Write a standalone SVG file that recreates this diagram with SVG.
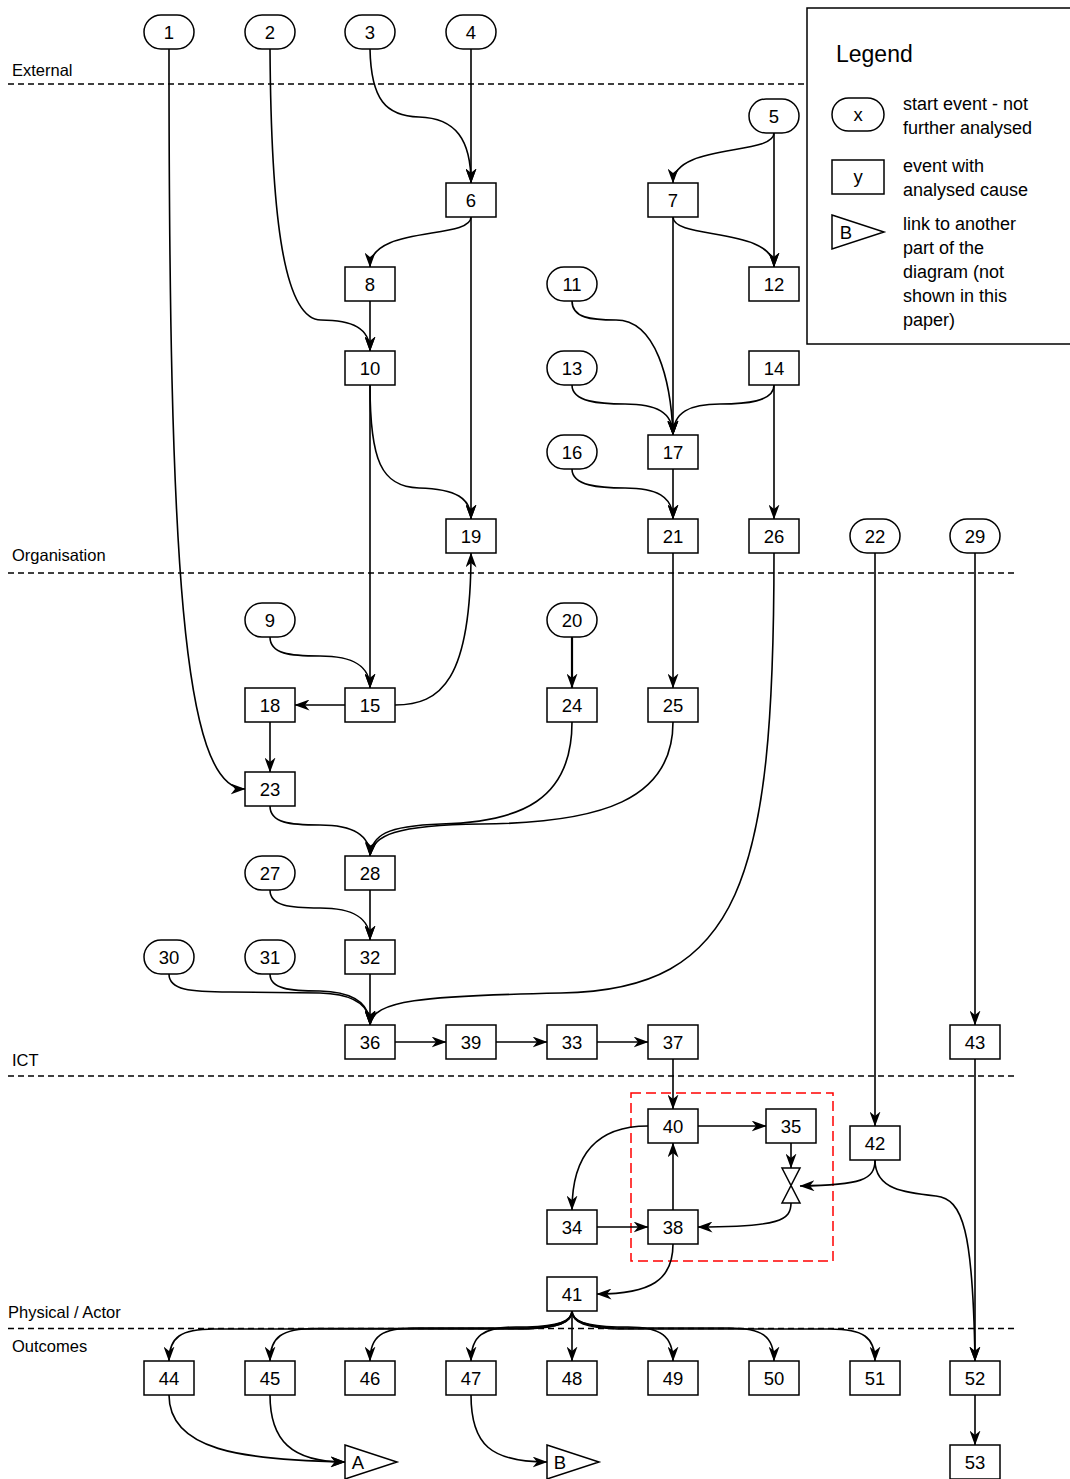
<svg xmlns="http://www.w3.org/2000/svg" width="1070" height="1479" viewBox="0 0 1070 1479">
<style>
text{font-family:"Liberation Sans",Arial,Helvetica,sans-serif;fill:#000}
.n rect,.n polygon{fill:#fff;stroke:#000;stroke-width:1.5}
.n text{font-size:18.5px;text-anchor:middle}
.lane{stroke:#000;stroke-width:1.3;stroke-dasharray:6 4;fill:none}
.lbl{font-size:16.5px}
#edges path{fill:none;stroke:#000;stroke-width:1.6;marker-end:url(#ah)}
.lg{font-size:18px}
</style>
<defs>
<marker id="ah" viewBox="0 0 15 11" refX="14.5" refY="5.5" markerWidth="15" markerHeight="11" markerUnits="userSpaceOnUse" orient="auto">
<path d="M0,0 L15,5.5 L0,11 L4.5,5.5 Z" fill="#000"/>
</marker>
</defs>
<rect width="1070" height="1479" fill="#fff"/>

<g id="lanes">
<line class="lane" x1="8" y1="84" x2="807" y2="84"/>
<line class="lane" x1="8" y1="573" x2="1015" y2="573"/>
<line class="lane" x1="8" y1="1076" x2="1015" y2="1076"/>
<line class="lane" x1="8" y1="1328.5" x2="1015" y2="1328.5"/>
<text class="lbl" x="12" y="76">External</text>
<text class="lbl" x="12" y="561">Organisation</text>
<text class="lbl" x="12" y="1066">ICT</text>
<text class="lbl" x="8" y="1318">Physical / Actor</text>
<text class="lbl" x="12" y="1352">Outcomes</text>
</g>

<rect id="group" x="631" y="1093" width="202" height="168" fill="none" stroke="#ff0000" stroke-width="1.5" stroke-dasharray="10 5"/>

<g id="legend">
<rect x="807" y="8" width="290" height="336" fill="#fff" stroke="#000" stroke-width="1.5"/>
<text x="836" y="62" style="font-size:23px">Legend</text>
<g class="n"><rect x="832" y="98" width="52" height="33" rx="16.5" ry="16.5"/><text x="858" y="121">x</text></g>
<g class="n"><rect x="832" y="160" width="52" height="34"/><text x="858" y="183">y</text></g>
<g class="n"><polygon points="832,215 884,232 832,249"/><text x="846" y="238.5">B</text></g>
<text class="lg" x="903" y="109.5">start event - not</text>
<text class="lg" x="903" y="133.5">further analysed</text>
<text class="lg" x="903" y="171.5">event with</text>
<text class="lg" x="903" y="195.5">analysed cause</text>
<text class="lg" x="903" y="229.5">link to another</text>
<text class="lg" x="903" y="253.5">part of the</text>
<text class="lg" x="903" y="277.5">diagram (not</text>
<text class="lg" x="903" y="301.5">shown in this</text>
<text class="lg" x="903" y="325.5">paper)</text>
</g>

<g id="edges">
<path d="M169,49 C169,560 182,789 245,789"/>
<path d="M270,49 C271,200 281,320 321,320 C352,320 370,328 370,351"/>
<path d="M370,49 C371,100 386,116 419,117 C456,118 471,140 471,183"/>
<path d="M471,49 L471,183"/>
<path d="M471,217 C471,240 370,225 370,267"/>
<path d="M471,217 L471,519"/>
<path d="M370,301 L370,351"/>
<path d="M370,385 C370,460 381,487 419,488 C456,489 471,498 471,519"/>
<path d="M370,385 L370,688"/>
<path d="M774,133 C774,156 673,143 673,183"/>
<path d="M774,133 L774,267"/>
<path d="M673,217 C673,240 774,227 774,267"/>
<path d="M673,217 L673,435"/>
<path d="M572,301 C572,318 591,320 616,320 C656,320 671,380 673,435"/>
<path d="M572,385 C572,402 600,404 625,404 C656,404 673,412 673,435"/>
<path d="M774,385 C774,402 745,404 720,404 C690,404 673,412 673,435"/>
<path d="M774,385 L774,519"/>
<path d="M572,469 C572,486 600,488 625,488 C656,488 673,496 673,519"/>
<path d="M673,469 L673,519"/>
<path d="M673,553 L673,688"/>
<path d="M774,553 C774,880 741,990 561,993 C421,996 373,1000 370,1025"/>
<path d="M875,553 L875,1126"/>
<path d="M975,553 L975,1025"/>
<path d="M270,637 C270,654 290,656 320,656 C352,656 370,665 370,688"/>
<path d="M345,705 L295,705"/>
<path d="M395,705 C441,705 471,680 471,553"/>
<path d="M270,722 L270,772"/>
<path d="M572,637 L572,688" style="stroke-width:2.2"/>
<path d="M270,806 C270,823 290,825 320,825 C352,825 370,834 370,856"/>
<path d="M572,722 C572,800 521,822 441,824 C386,826 372,835 370,856"/>
<path d="M673,722 C673,800 601,823 481,824 C396,825 372,835 370,856"/>
<path d="M370,890 L370,940"/>
<path d="M270,890 C270,906 290,908 320,908 C352,908 370,917 370,940"/>
<path d="M169,974 C169,990 190,992 230,992 L320,993 C355,994 370,1005 370,1025"/>
<path d="M270,974 C270,989 290,991 320,991 C355,992 370,1004 370,1025"/>
<path d="M370,974 L370,1025"/>
<path d="M395,1042 L446,1042"/>
<path d="M496,1042 L547,1042"/>
<path d="M597,1042 L648,1042"/>
<path d="M673,1059 L673,1109"/>
<path d="M975,1059 L975,1361"/>
<path d="M875,1160 C875,1190 906,1193 936,1196 C963,1199 973,1230 975,1361"/>
<path d="M875,1160 C875,1180 861,1185 800,1186"/>
<path d="M791,1143 L791,1168"/>
<path d="M791,1203 C791,1220 780,1227 698,1227"/>
<path d="M698,1126 L766,1126"/>
<path d="M648,1126 C601,1126 572,1150 572,1210"/>
<path d="M597,1227 L648,1227"/>
<path d="M673,1210 L673,1143"/>
<path d="M673,1244 C673,1280 651,1294 597,1294"/>
<path d="M572,1311 C572,1323 557,1328 527,1329 L214,1329 C181,1329 169,1337 169,1361"/>
<path d="M572,1311 C572,1323 557,1327.5 527,1328.5 L315,1328.5 C282,1328.5 270,1337 270,1361"/>
<path d="M572,1311 C572,1322 557,1327 527,1328 L415,1328 C382,1328 370,1336 370,1361"/>
<path d="M572,1311 C572,1322 557,1326 527,1327 L516,1327 C483,1327 471,1336 471,1361"/>
<path d="M572,1311 L572,1361"/>
<path d="M572,1311 C572,1322 587,1326 617,1327 L628,1327 C661,1327 673,1336 673,1361"/>
<path d="M572,1311 C572,1322 587,1327 617,1328 L729,1328 C762,1328 774,1336 774,1361"/>
<path d="M572,1311 C572,1323 587,1328 617,1329 L830,1329 C863,1329 875,1337 875,1361"/>
<path d="M975,1395 L975,1445"/>
<path d="M169,1395 C169,1450 241,1460 345,1462"/>
<path d="M270,1395 C270,1440 291,1462 345,1462"/>
<path d="M471,1395 C471,1445 491,1462 547,1462"/>
</g>

<g id="n1" class="n"><rect x="144" y="15" width="50" height="34" rx="17"/><text x="169" y="38.5">1</text></g>
<g id="n2" class="n"><rect x="245" y="15" width="50" height="34" rx="17"/><text x="270" y="38.5">2</text></g>
<g id="n3" class="n"><rect x="345" y="15" width="50" height="34" rx="17"/><text x="370" y="38.5">3</text></g>
<g id="n4" class="n"><rect x="446" y="15" width="50" height="34" rx="17"/><text x="471" y="38.5">4</text></g>
<g id="n5" class="n"><rect x="749" y="99" width="50" height="34" rx="17"/><text x="774" y="122.5">5</text></g>
<g id="n11" class="n"><rect x="547" y="267" width="50" height="34" rx="17"/><text x="572" y="290.5">11</text></g>
<g id="n13" class="n"><rect x="547" y="351" width="50" height="34" rx="17"/><text x="572" y="374.5">13</text></g>
<g id="n16" class="n"><rect x="547" y="435" width="50" height="34" rx="17"/><text x="572" y="458.5">16</text></g>
<g id="n22" class="n"><rect x="850" y="519" width="50" height="34" rx="17"/><text x="875" y="542.5">22</text></g>
<g id="n29" class="n"><rect x="950" y="519" width="50" height="34" rx="17"/><text x="975" y="542.5">29</text></g>
<g id="n9" class="n"><rect x="245" y="603" width="50" height="34" rx="17"/><text x="270" y="626.5">9</text></g>
<g id="n20" class="n"><rect x="547" y="603" width="50" height="34" rx="17"/><text x="572" y="626.5">20</text></g>
<g id="n27" class="n"><rect x="245" y="856" width="50" height="34" rx="17"/><text x="270" y="879.5">27</text></g>
<g id="n30" class="n"><rect x="144" y="940" width="50" height="34" rx="17"/><text x="169" y="963.5">30</text></g>
<g id="n31" class="n"><rect x="245" y="940" width="50" height="34" rx="17"/><text x="270" y="963.5">31</text></g>

<g id="n6" class="n"><rect x="446" y="183" width="50" height="34"/><text x="471" y="206.5">6</text></g>
<g id="n7" class="n"><rect x="648" y="183" width="50" height="34"/><text x="673" y="206.5">7</text></g>
<g id="n8" class="n"><rect x="345" y="267" width="50" height="34"/><text x="370" y="290.5">8</text></g>
<g id="n12" class="n"><rect x="749" y="267" width="50" height="34"/><text x="774" y="290.5">12</text></g>
<g id="n10" class="n"><rect x="345" y="351" width="50" height="34"/><text x="370" y="374.5">10</text></g>
<g id="n14" class="n"><rect x="749" y="351" width="50" height="34"/><text x="774" y="374.5">14</text></g>
<g id="n17" class="n"><rect x="648" y="435" width="50" height="34"/><text x="673" y="458.5">17</text></g>
<g id="n19" class="n"><rect x="446" y="519" width="50" height="34"/><text x="471" y="542.5">19</text></g>
<g id="n21" class="n"><rect x="648" y="519" width="50" height="34"/><text x="673" y="542.5">21</text></g>
<g id="n26" class="n"><rect x="749" y="519" width="50" height="34"/><text x="774" y="542.5">26</text></g>
<g id="n18" class="n"><rect x="245" y="688" width="50" height="34"/><text x="270" y="711.5">18</text></g>
<g id="n15" class="n"><rect x="345" y="688" width="50" height="34"/><text x="370" y="711.5">15</text></g>
<g id="n24" class="n"><rect x="547" y="688" width="50" height="34"/><text x="572" y="711.5">24</text></g>
<g id="n25" class="n"><rect x="648" y="688" width="50" height="34"/><text x="673" y="711.5">25</text></g>
<g id="n23" class="n"><rect x="245" y="772" width="50" height="34"/><text x="270" y="795.5">23</text></g>
<g id="n28" class="n"><rect x="345" y="856" width="50" height="34"/><text x="370" y="879.5">28</text></g>
<g id="n32" class="n"><rect x="345" y="940" width="50" height="34"/><text x="370" y="963.5">32</text></g>
<g id="n36" class="n"><rect x="345" y="1025" width="50" height="34"/><text x="370" y="1048.5">36</text></g>
<g id="n39" class="n"><rect x="446" y="1025" width="50" height="34"/><text x="471" y="1048.5">39</text></g>
<g id="n33" class="n"><rect x="547" y="1025" width="50" height="34"/><text x="572" y="1048.5">33</text></g>
<g id="n37" class="n"><rect x="648" y="1025" width="50" height="34"/><text x="673" y="1048.5">37</text></g>
<g id="n43" class="n"><rect x="950" y="1025" width="50" height="34"/><text x="975" y="1048.5">43</text></g>
<g id="n40" class="n"><rect x="648" y="1109" width="50" height="34"/><text x="673" y="1132.5">40</text></g>
<g id="n35" class="n"><rect x="766" y="1109" width="50" height="34"/><text x="791" y="1132.5">35</text></g>
<g id="n42" class="n"><rect x="850" y="1126" width="50" height="34"/><text x="875" y="1149.5">42</text></g>
<g id="gate" class="n"><polygon points="782,1168 800,1168 782,1203 800,1203"/></g>
<g id="n34" class="n"><rect x="547" y="1210" width="50" height="34"/><text x="572" y="1233.5">34</text></g>
<g id="n38" class="n"><rect x="648" y="1210" width="50" height="34"/><text x="673" y="1233.5">38</text></g>
<g id="n41" class="n"><rect x="547" y="1277" width="50" height="34"/><text x="572" y="1300.5">41</text></g>
<g id="n44" class="n"><rect x="144" y="1361" width="50" height="34"/><text x="169" y="1384.5">44</text></g>
<g id="n45" class="n"><rect x="245" y="1361" width="50" height="34"/><text x="270" y="1384.5">45</text></g>
<g id="n46" class="n"><rect x="345" y="1361" width="50" height="34"/><text x="370" y="1384.5">46</text></g>
<g id="n47" class="n"><rect x="446" y="1361" width="50" height="34"/><text x="471" y="1384.5">47</text></g>
<g id="n48" class="n"><rect x="547" y="1361" width="50" height="34"/><text x="572" y="1384.5">48</text></g>
<g id="n49" class="n"><rect x="648" y="1361" width="50" height="34"/><text x="673" y="1384.5">49</text></g>
<g id="n50" class="n"><rect x="749" y="1361" width="50" height="34"/><text x="774" y="1384.5">50</text></g>
<g id="n51" class="n"><rect x="850" y="1361" width="50" height="34"/><text x="875" y="1384.5">51</text></g>
<g id="n52" class="n"><rect x="950" y="1361" width="50" height="34"/><text x="975" y="1384.5">52</text></g>
<g id="n53" class="n"><rect x="950" y="1445" width="50" height="34"/><text x="975" y="1468.5">53</text></g>
<g id="linkA" class="n"><polygon points="345,1445 397,1462 345,1479"/><text x="358" y="1468.5">A</text></g>
<g id="linkB" class="n"><polygon points="547,1445 599,1462 547,1479"/><text x="560" y="1468.5">B</text></g>
</svg>
